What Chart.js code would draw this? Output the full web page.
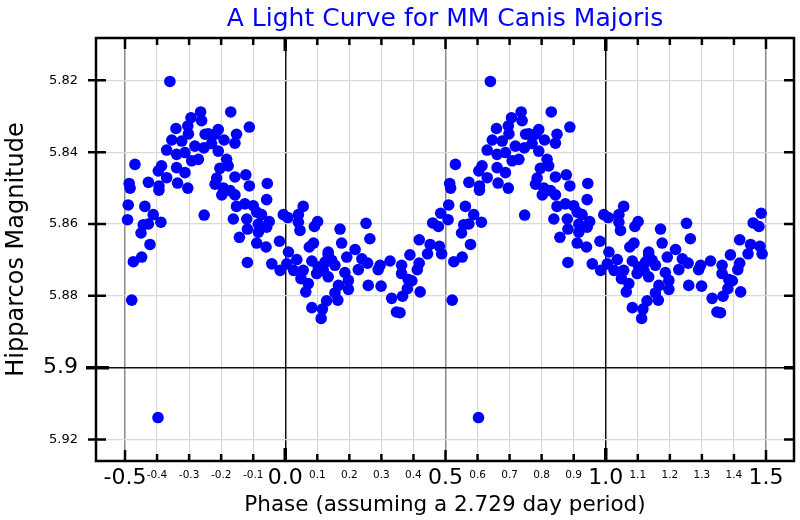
<!DOCTYPE html>
<html>
<head>
<meta charset="utf-8">
<script src="https://cdn.jsdelivr.net/npm/chart.js@4.4.0/dist/chart.umd.min.js"></script>
<style>
  html, body { margin: 0; padding: 0; background: #fff; }
</style>
</head>
<body>
<canvas id="myChart" width="800" height="520"></canvas>
<script>
// one folded cycle (phase -0.5 .. 0.5)
const phase = [
  -0.360, -0.294, -0.264, -0.261, -0.341, -0.304, -0.302, -0.354, -0.323, -0.282,
  -0.250, -0.370, -0.339, -0.313, -0.271, -0.469, -0.386, -0.396, -0.339, -0.313,
  -0.370, -0.292, -0.487, -0.484, -0.427, -0.394, -0.394, -0.336, -0.304, -0.490,
  -0.438, -0.492, -0.412, -0.388, -0.427, -0.443, -0.450, -0.422, -0.448, -0.474,
  -0.479, -0.253, -0.397,
  -0.170, -0.112, -0.240, -0.209, -0.219, -0.191, -0.152, -0.157, -0.254, -0.230,
  -0.209, -0.183, -0.204, -0.178, -0.214, -0.219, -0.157, -0.123, -0.112, -0.193,
  -0.172, -0.198, -0.157, -0.056, -0.058, -0.152, -0.126, -0.100, -0.089, -0.074,
  -0.162, -0.120, -0.084, -0.050, -0.006, -0.118, -0.084, -0.058, -0.143, -0.089,
  -0.060, -0.018, 0.010, -0.118, -0.042, -0.016, 0.005,
  0.008, 0.056, 0.041, 0.046, 0.041, 0.101, 0.091, 0.171, 0.252, 0.264,
  0.176, 0.088, 0.075, 0.218, 0.036, 0.083, 0.134, 0.145, 0.192, 0.239,
  0.257, 0.026, 0.056, 0.103, 0.119, 0.155, 0.124, 0.228, 0.049, 0.072,
  0.098, 0.134, 0.186, 0.197, 0.259, 0.166, 0.064, 0.197, 0.155, 0.164,
  0.129, 0.083, 0.116, 0.112, 0.134,
  0.485, 0.460, 0.478, 0.418, 0.452, 0.481, 0.444, 0.488, 0.389, 0.418,
  0.412, 0.327, 0.363, 0.296, 0.290, 0.363, 0.384, 0.395, 0.381, 0.299,
  0.421, 0.366, 0.332, 0.347, 0.358
];
const magnitude = [
  5.8203, 5.8304, 5.8288, 5.8312, 5.8334, 5.8327, 5.8349, 5.8366, 5.8369, 5.8383,
  5.8350, 5.8394, 5.8406, 5.8401, 5.8420, 5.8434, 5.8438, 5.8452, 5.8443, 5.8457,
  5.8471, 5.8424, 5.8487, 5.8500, 5.8484, 5.8494, 5.8506, 5.8486, 5.8500, 5.8547,
  5.8551, 5.8588, 5.8574, 5.8595, 5.8600, 5.8602, 5.8625, 5.8657, 5.8692, 5.8705,
  5.8812, 5.8575, 5.9139,
  5.8288, 5.8330, 5.8349, 5.8337, 5.8350, 5.8366, 5.8350, 5.8375, 5.8388, 5.8376,
  5.8397, 5.8420, 5.8445, 5.8438, 5.8472, 5.8489, 5.8469, 5.8463, 5.8494, 5.8500,
  5.8507, 5.8519, 5.8519, 5.8487, 5.8532, 5.8551, 5.8544, 5.8549, 5.8567, 5.8574,
  5.8586, 5.8586, 5.8600, 5.8593, 5.8574, 5.8614, 5.8623, 5.8609, 5.8637, 5.8653,
  5.8664, 5.8648, 5.8678, 5.8707, 5.8711, 5.8729, 5.8711,
  5.8582, 5.8551, 5.8574, 5.8618, 5.8595, 5.8593, 5.8607, 5.8614, 5.8598, 5.8641,
  5.8653, 5.8653, 5.8664, 5.8671, 5.8699, 5.8703, 5.8686, 5.8701, 5.8692, 5.8697,
  5.8709, 5.8729, 5.8729, 5.8720, 5.8729, 5.8715, 5.8706, 5.8727, 5.8752, 5.8766,
  5.8738, 5.8747, 5.8735, 5.8757, 5.8771, 5.8771, 5.8789, 5.8782, 5.8792, 5.8812,
  5.8814, 5.8833, 5.8837, 5.8863, 5.8678,
  5.8570, 5.8597, 5.8607, 5.8644, 5.8657, 5.8662, 5.8683, 5.8683, 5.8686, 5.8709,
  5.8727, 5.8703, 5.8715, 5.8715, 5.8727, 5.8738, 5.8755, 5.8758, 5.8780, 5.8773,
  5.8789, 5.8801, 5.8807, 5.8845, 5.8847
];
// the plot repeats the same cycle one phase later
const cycleShift = 1;

const xTicks = [-0.5, -0.4, -0.3, -0.2, -0.1, 0.0, 0.1, 0.2, 0.3, 0.4, 0.5,
                0.6, 0.7, 0.8, 0.9, 1.0, 1.1, 1.2, 1.3, 1.4, 1.5];
const xTickLabels = ['-0.5', '-0.4', '-0.3', '-0.2', '-0.1', '0.0', '0.1', '0.2', '0.3', '0.4', '0.5',
                     '0.6', '0.7', '0.8', '0.9', '1.0', '1.1', '1.2', '1.3', '1.4', '1.5'];
const yTicks = [5.82, 5.84, 5.86, 5.88, 5.9, 5.92];
const yTickLabels = ['5.82', '5.84', '5.86', '5.88', '5.9', '5.92'];

const points = [];
phase.forEach((p, i) => points.push({x: p, y: magnitude[i]}));
phase.forEach((p, i) => points.push({x: p + cycleShift, y: magnitude[i]}));

const bigX = i => i % 5 === 0;
const bigY = i => yTickLabels[i] === '5.9';

// inward tick marks + heavy frame
const frameTicks = {
  id: 'frameTicks',
  afterDatasetsDraw(chart) {
    const {ctx, chartArea: a, scales: {x, y}} = chart;
    ctx.save();
    ctx.strokeStyle = '#000';
    xTicks.forEach((v, i) => {
      const px = x.getPixelForValue(v);
      const whole = i % 10 === 5;
      let len = whole ? 13 : (bigX(i) ? 11 : 7);
      ctx.lineWidth = whole ? 3.5 : 2.5;
      ctx.beginPath();
      ctx.moveTo(px, a.bottom); ctx.lineTo(px, a.bottom - len);
      ctx.moveTo(px, a.top); ctx.lineTo(px, a.top + len);
      ctx.stroke();
    });
    yTicks.forEach((v, i) => {
      const py = y.getPixelForValue(v);
      ctx.lineWidth = bigY(i) ? 3.5 : 2.5;
      ctx.beginPath();
      ctx.moveTo(a.left - (bigY(i) ? 10 : 8), py); ctx.lineTo(a.left + (bigY(i) ? 13 : 10), py);
      ctx.moveTo(a.right, py); ctx.lineTo(a.right - 10, py);
      ctx.stroke();
    });
    ctx.lineWidth = 2.5;
    ctx.strokeRect(a.left, a.top, a.right - a.left, a.bottom - a.top);
    ctx.restore();
  }
};

new Chart(document.getElementById('myChart'), {
  type: 'scatter',
  data: {
    datasets: [{
      data: points,
      backgroundColor: '#0000ff',
      borderWidth: 0,
      pointRadius: 5.8
    }]
  },
  options: {
    responsive: false,
    animation: false,
    layout: { padding: { left: 0, right: 6, top: 0, bottom: 0 } },
    plugins: {
      legend: { display: false },
      tooltip: { enabled: false },
      title: {
        display: true,
        text: 'A Light Curve for MM Canis Majoris',
        color: '#0000ff',
        fullSize: false,
        font: { family: 'DejaVu Sans', size: 25, weight: 'normal', lineHeight: 1.2 },
        padding: { top: 4, bottom: 4 }
      }
    },
    scales: {
      x: {
        type: 'linear',
        min: -0.5905,
        max: 1.5874,
        afterBuildTicks: s => { s.ticks = xTicks.map(v => ({value: v})); },
        afterFit: s => { s.height = 59; },
        border: { display: false },
        grid: {
          drawTicks: false,
          color: c => (c.index % 10 === 5 ? '#111' : (c.index % 10 === 0 ? '#8a8a8a' : '#dadada')),
          lineWidth: c => (c.index % 5 === 0 ? 1.5 : 1.2)
        },
        ticks: {
          autoSkip: false,
          maxRotation: 0,
          padding: 4,
          color: '#000',
          callback: (v, i) => xTickLabels[i],
          font: c => bigX(c.index)
            ? { family: 'DejaVu Sans', size: 22, lineHeight: 1.2 }
            : { family: 'DejaVu Sans', size: 10.5, lineHeight: 2.0 }
        },
        title: {
          display: true,
          text: 'Phase (assuming a 2.729 day period)',
          color: '#000',
          font: { family: 'DejaVu Sans', size: 21.5, lineHeight: 1.2 },
          padding: { top: 0, bottom: 2 }
        }
      },
      y: {
        type: 'linear',
        reverse: true,
        min: 5.8082,
        max: 5.9260,
        afterBuildTicks: s => { s.ticks = yTicks.map(v => ({value: v})); },
        afterFit: s => { s.width = 96; },
        border: { display: false },
        grid: {
          drawTicks: false,
          color: c => (bigY(c.index) ? '#111' : '#dadada'),
          lineWidth: c => (bigY(c.index) ? 1.5 : 1.2)
        },
        ticks: {
          autoSkip: false,
          padding: 18,
          color: '#000',
          callback: (v, i) => yTickLabels[i],
          font: c => bigY(c.index)
            ? { family: 'DejaVu Sans', size: 22 }
            : { family: 'DejaVu Sans', size: 13 }
        },
        title: {
          display: true,
          text: 'Hipparcos Magnitude',
          color: '#000',
          font: { family: 'DejaVu Sans', size: 24, lineHeight: 1.2 },
          padding: { top: 2, bottom: 0 }
        }
      }
    }
  },
  plugins: [frameTicks]
});
</script>
</body>
</html>
